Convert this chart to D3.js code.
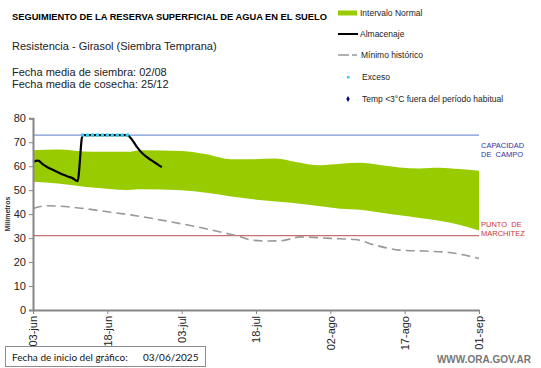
<!DOCTYPE html>
<html>
<head>
<meta charset="utf-8">
<script src="https://cdn.jsdelivr.net/npm/d3@7"></script>
<style>
  body { margin: 0; background: #fff; }
  svg { font-family: Arial, "Liberation Sans", sans-serif; }
</style>
</head>
<body>
<div id="chart-area"></div>
<script>
// datos (dias desde 03/06/2025)
var startDate = new Date(2025, 5, 3);

var bandDays  = [0, 5, 12, 19, 22, 30, 35, 40, 44, 49, 53, 58, 62, 66, 70, 74, 78, 82, 86, 90];
var bandUpper = [66.7, 67, 66, 66, 66.7, 66.4, 65, 62.9, 62.9, 63.2, 61.8, 60.4, 61, 61.4, 60.5, 59.5, 59.1, 59.4, 58.8, 58.1];
var bandLower = [53.5, 52.8, 51.1, 50.1, 50.4, 50, 48.9, 47.4, 46.3, 45.3, 44.6, 43.3, 42.3, 41.8, 40.7, 39.5, 38.4, 37.2, 35.6, 33.2];

var almDays   = [0, 1, 2, 3, 4, 5, 6, 7, 8, 9, 10, 11, 12, 13, 14, 15, 16, 17, 18, 19, 20, 21, 22, 23, 24, 25, 26];
var almValues = [61.8, 62.3, 60.8, 59.5, 58.5, 57.5, 56.5, 55.7, 55.0, 53.8, 73, 73, 73, 73, 73, 73, 73, 73, 73, 73, 71, 68, 65.5, 63.8, 62.3, 61, 59.6];

var excesoDays   = [10, 11, 12, 13, 14, 15, 16, 17, 18, 19];
var excesoValues = [73, 73, 73, 73, 73, 73, 73, 73, 73, 73];

var minDays   = [0, 3, 10, 15, 20, 27, 34, 39, 42, 44, 47, 50, 54, 60, 65, 69, 74, 79, 84, 90];
var minValues = [42.4, 43.5, 42.4, 41, 39.6, 37.1, 34.3, 32, 30.5, 29.2, 28.8, 28.9, 30.5, 29.9, 29.4, 27.1, 25, 24.6, 24, 21.5];

var capacidadCampo = 73;
var puntoMarchitez = 31;

var yTicks = [0, 10, 20, 30, 40, 50, 60, 70, 80];
var xTickDays = [0, 15, 30, 45, 60, 75, 90];
var mesesEs = ["ene", "feb", "mar", "abr", "may", "jun", "jul", "ago", "sep", "oct", "nov", "dic"];

function dayToDate(d) { return d3.timeDay.offset(startDate, d); }

var W = 541, H = 368;
var svg = d3.select("#chart-area")
    .append("svg")
        .attr("width", W)
        .attr("height", H);

var x = d3.scaleTime()
    .domain([startDate, dayToDate(90)])
    .range([33, 479]);

var y = d3.scaleLinear()
    .domain([0, 80])
    .range([310, 118.3]);

// banda intervalo normal
var band = bandDays.map(function(d, i) { return {d: d, hi: bandUpper[i], lo: bandLower[i]}; });
var area = d3.area()
    .x(function(p) { return x(dayToDate(p.d)); })
    .y0(function(p) { return y(p.lo); })
    .y1(function(p) { return y(p.hi); })
    .curve(d3.curveMonotoneX);
svg.append("path")
    .datum(band)
    .attr("d", area)
    .attr("fill", "#99cc00");

// capacidad de campo y punto de marchitez
svg.append("line")
    .attr("x1", x(startDate)).attr("x2", x(dayToDate(90)))
    .attr("y1", y(capacidadCampo)).attr("y2", y(capacidadCampo))
    .attr("stroke", "#7b96d4").attr("stroke-width", 1.2);
svg.append("line")
    .attr("x1", x(startDate)).attr("x2", x(dayToDate(90)))
    .attr("y1", y(puntoMarchitez)).attr("y2", y(puntoMarchitez))
    .attr("stroke", "#c8706e").attr("stroke-width", 1.2);

// minimo historico
var minLine = d3.line()
    .x(function(p, i) { return x(dayToDate(minDays[i])); })
    .y(function(p) { return y(p); })
    .curve(d3.curveMonotoneX);
svg.append("path")
    .datum(minValues)
    .attr("d", minLine)
    .attr("fill", "none")
    .attr("stroke", "#999999")
    .attr("stroke-width", 1.6)
    .attr("stroke-dasharray", "9,5");

// almacenaje
var almLine = d3.line()
    .x(function(p, i) { return x(dayToDate(almDays[i])); })
    .y(function(p) { return y(p); })
    .curve(d3.curveMonotoneX);
svg.append("path")
    .datum(almValues)
    .attr("d", almLine)
    .attr("fill", "none")
    .attr("stroke", "#000")
    .attr("stroke-width", 2.2);

// exceso
svg.selectAll(".exceso")
    .data(excesoValues)
    .enter().append("rect")
    .attr("class", "exceso")
    .attr("x", function(p, i) { return x(dayToDate(excesoDays[i])) - 1.6; })
    .attr("y", function(p) { return y(p) - 1.6; })
    .attr("width", 3.2)
    .attr("height", 3.2)
    .attr("fill", "#33ccee");

// ejes
var yAxis = d3.axisLeft(y).tickValues(yTicks).tickSize(4).tickPadding(3);
var gy = svg.append("g")
    .attr("transform", "translate(33,0)")
    .call(yAxis);
gy.select(".domain").attr("stroke", "#868686").attr("stroke-width", 2);
gy.selectAll(".tick line").attr("stroke", "#868686");
gy.selectAll("text").attr("font-size", "11px").attr("fill", "#222").attr("font-family", "Arial, 'Liberation Sans', sans-serif");

var xAxis = d3.axisBottom(x)
    .tickValues(xTickDays.map(dayToDate))
    .tickSize(4)
    .tickSizeOuter(0)
    .tickFormat(function(d) { return d3.timeFormat("%d")(d) + "-" + mesesEs[d.getMonth()]; });
var gx = svg.append("g")
    .attr("transform", "translate(0,310)")
    .call(xAxis);
gx.select(".domain").attr("stroke", "#868686").attr("stroke-width", 2);
gx.selectAll(".tick line").attr("stroke", "#868686");
gx.selectAll("text")
    .attr("font-size", "11px")
    .attr("fill", "#222")
    .attr("font-family", "Arial, 'Liberation Sans', sans-serif")
    .attr("text-anchor", "end")
    .attr("transform", "rotate(-90)")
    .attr("x", -6)
    .attr("y", 0)
    .attr("dy", "0.35em");

svg.append("text")
    .attr("transform", "translate(10,214) rotate(-90)")
    .attr("text-anchor", "middle")
    .attr("font-size", "7px")
    .attr("font-weight", "bold")
    .attr("fill", "#333")
    .text("Milímetros");

// etiquetas a la derecha
svg.append("text").attr("x", 481).attr("y", 148).attr("font-size", "7.5px").attr("fill", "#3333a0").text("CAPACIDAD");
svg.append("text").attr("x", 481).attr("y", 157).attr("font-size", "7.5px").attr("fill", "#3333a0").attr("xml:space", "preserve").text("DE  CAMPO");
svg.append("text").attr("x", 481).attr("y", 227).attr("font-size", "7.5px").attr("fill", "#cc3333").attr("xml:space", "preserve").text("PUNTO  DE");
svg.append("text").attr("x", 481).attr("y", 236).attr("font-size", "7.5px").attr("fill", "#cc3333").text("MARCHITEZ");

// titulos
svg.append("text").attr("x", 12).attr("y", 19.5)
    .attr("font-size", "9.3px").attr("font-weight", "bold").attr("fill", "#000")
    .text("SEGUIMIENTO DE LA RESERVA SUPERFICIAL DE AGUA EN EL SUELO");
svg.append("text").attr("x", 12).attr("y", 50).attr("font-size", "11px").attr("fill", "#222")
    .text("Resistencia - Girasol (Siembra Temprana)");
svg.append("text").attr("x", 12).attr("y", 75.5).attr("font-size", "11px").attr("fill", "#222")
    .text("Fecha media de siembra: 02/08");
svg.append("text").attr("x", 12).attr("y", 88).attr("font-size", "11px").attr("fill", "#222")
    .text("Fecha media de cosecha: 25/12");

// leyenda
var lg = svg.append("g").attr("font-size", "8.5px").attr("fill", "#222");
lg.append("rect").attr("x", 338).attr("y", 10.5).attr("width", 19).attr("height", 5).attr("fill", "#99cc00");
lg.append("text").attr("x", 360).attr("y", 16).text("Intervalo Normal");
lg.append("line").attr("x1", 338).attr("x2", 358).attr("y1", 34).attr("y2", 34).attr("stroke", "#000").attr("stroke-width", 2);
lg.append("text").attr("x", 360).attr("y", 37).text("Almacenaje");
lg.append("line").attr("x1", 338).attr("x2", 349).attr("y1", 55).attr("y2", 55).attr("stroke", "#999").attr("stroke-width", 1.5);
lg.append("line").attr("x1", 352).attr("x2", 357).attr("y1", 55).attr("y2", 55).attr("stroke", "#999").attr("stroke-width", 1.5);
lg.append("text").attr("x", 361).attr("y", 58).text("Mínimo histórico");
lg.append("rect").attr("x", 347).attr("y", 76).attr("width", 2.5).attr("height", 2.5).attr("fill", "#33ccee");
lg.append("text").attr("x", 362).attr("y", 80).text("Exceso");
lg.append("path").attr("d", d3.symbol().type(d3.symbolDiamond).size(10)()).attr("transform", "translate(348,99)").attr("fill", "#000080");
lg.append("text").attr("x", 362).attr("y", 102).text("Temp <3°C fuera del período habitual");

// pie
svg.append("rect").attr("x", 5.5).attr("y", 346.5).attr("width", 200).attr("height", 20)
    .attr("fill", "#fff").attr("stroke", "#8c8c8c");
svg.append("text").attr("x", 12).attr("y", 361).attr("font-size", "10px").attr("fill", "#111")
    .attr("font-family", "Lato, 'Open Sans', sans-serif")
    .text("Fecha de inicio del gráfico:");
svg.append("text").attr("x", 143).attr("y", 361).attr("font-size", "10px").attr("fill", "#111")
    .attr("font-family", "Lato, 'Open Sans', sans-serif")
    .text("03/06/2025");
svg.append("text").attr("x", 531).attr("y", 363).attr("text-anchor", "end")
    .attr("font-size", "10px").attr("font-weight", "bold").attr("fill", "#777")
    .text("WWW.ORA.GOV.AR");
</script>
</body>
</html>
